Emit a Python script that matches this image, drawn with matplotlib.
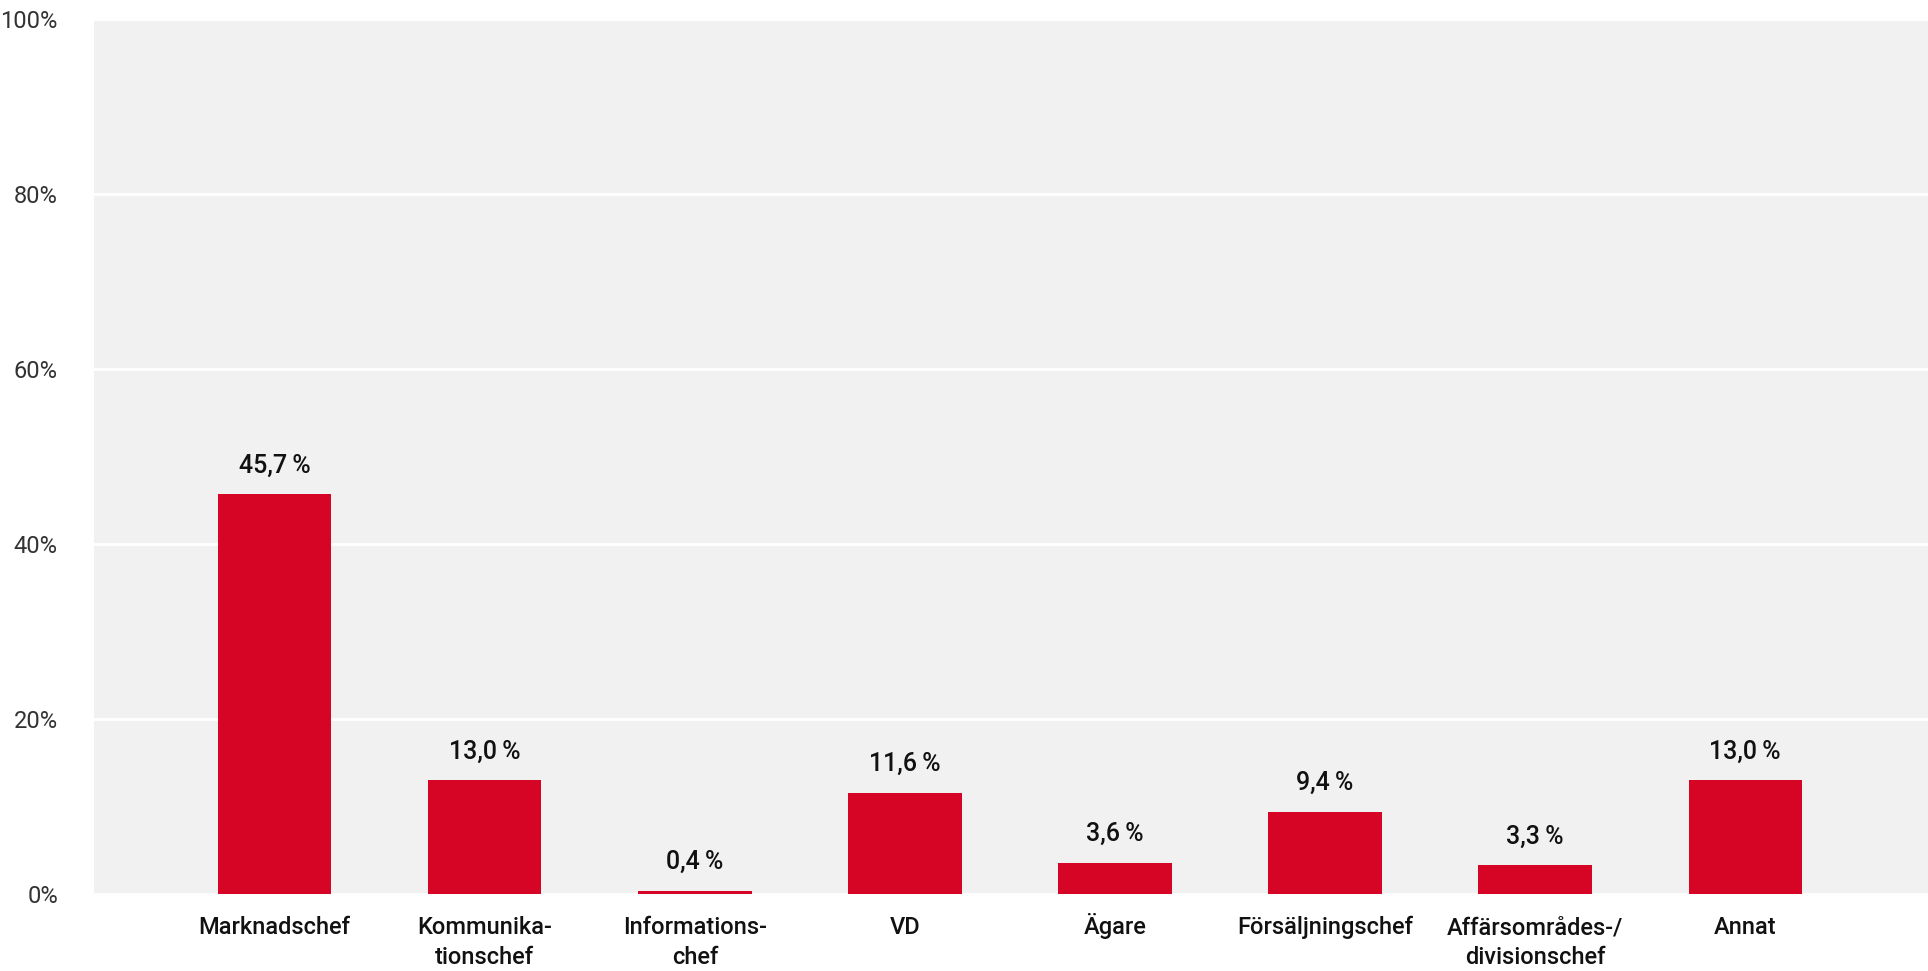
import matplotlib
matplotlib.use("Agg")
import matplotlib.pyplot as plt
from matplotlib.ticker import FuncFormatter
from matplotlib.transforms import blended_transform_factory

categories = ["Marknadschef", "Kommunika-\ntionschef", "Informations-\nchef", "VD",
              "Ägare", "Försäljningschef", "Affärsområdes-/\ndivisionschef", "Annat"]
values = [45.7, 13.0, 0.4, 11.6, 3.6, 9.4, 3.3, 13.0]
yticks = [0, 20, 40, 60, 80, 100]

plt.rcParams["font.family"] = ["Roboto", "DejaVu Sans"]

fig = plt.figure(figsize=(19.28, 9.71), dpi=100)
ax = fig.add_axes([94 / 1928, 1 - 894 / 971, (1928 - 94) / 1928, (894 - 19) / 971])
ax.set_facecolor("#f1f1f1")

x = list(range(len(categories)))
bars = ax.bar(x, values, width=0.54, color="#d60526", zorder=3)

for xi, v in zip(x, values):
    ax.annotate(f"{v:.1f}".replace(".", ",") + "\u2009%", (xi, v), xytext=(0, 12),
                textcoords="offset points", ha="center", va="bottom",
                fontsize=18, fontweight="medium", color="#111111")

ax.set_xlim(-0.86, 7.87)
ax.set_ylim(0, 100)
ax.set_yticks(yticks)
ax.yaxis.set_major_formatter(FuncFormatter(lambda v, p: f"{v:.0f}%"))
ax.grid(axis="y", color="white", linewidth=2, zorder=1)
ax.set_axisbelow(True)

# Category labels: each line placed on a common baseline below the axis
ax.set_xticks(x)
ax.set_xticklabels([])
trans = blended_transform_factory(ax.transData, ax.transAxes)
for xi, label in zip(x, categories):
    for i, line in enumerate(label.split("\n")):
        ax.annotate(line, (xi, 0), xycoords=trans, xytext=(0, -29 - 21.6 * i),
                    textcoords="offset points", ha="center", va="baseline",
                    fontsize=17, fontweight="medium", color="#111111",
                    annotation_clip=False)

ax.tick_params(axis="x", length=0)
ax.tick_params(axis="y", length=0, pad=26, labelsize=17, labelcolor="#333333")
for lbl in ax.get_yticklabels():
    lbl.set_fontweight("normal")

for s in ax.spines.values():
    s.set_visible(False)

fig.savefig("out.png", dpi=100, facecolor="white")
